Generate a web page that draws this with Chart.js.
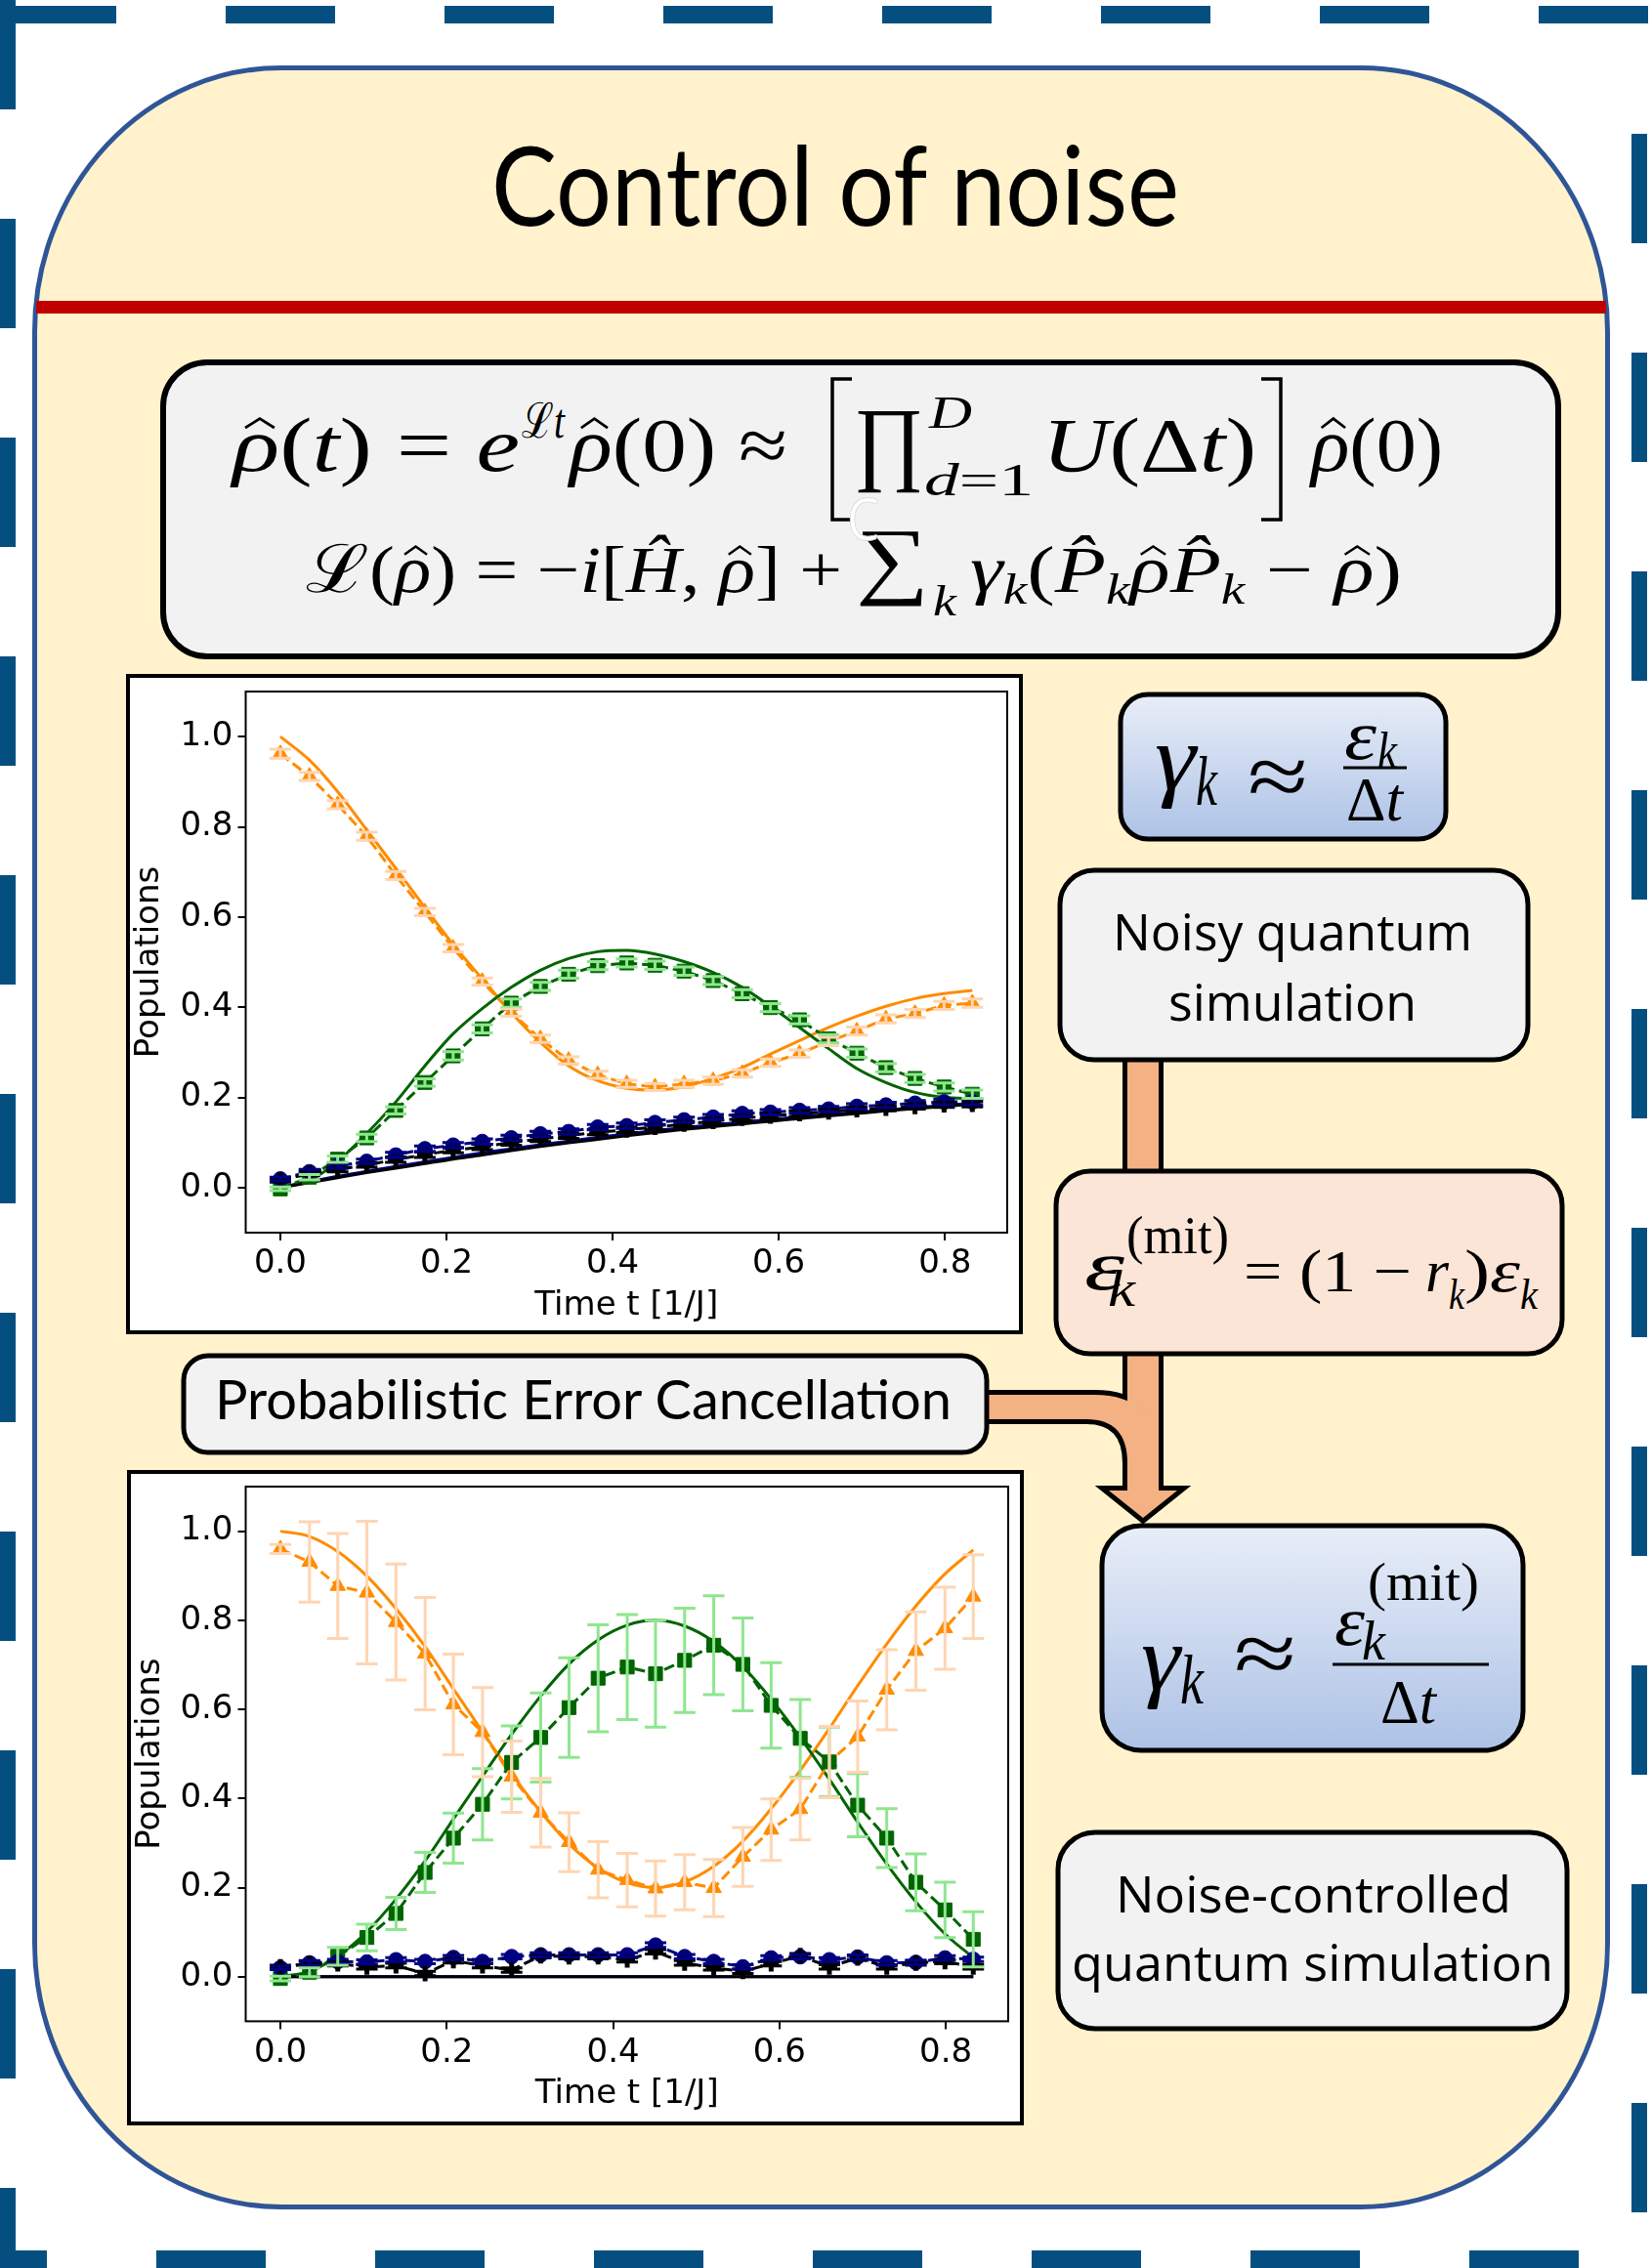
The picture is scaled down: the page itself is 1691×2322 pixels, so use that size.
<!DOCTYPE html>
<html>
<head>
<meta charset="utf-8">
<script src="https://cdn.jsdelivr.net/npm/chart.js@4.4.1/dist/chart.umd.min.js"></script>
<style>
  body { margin: 0; background: #fff; }
  #page { position: relative; width: 1691px; height: 2322px; overflow: hidden; }
  #deco { position: absolute; left: 0; top: 0; }
  canvas { position: absolute; }
  .m { font-family: 'Liberation Serif', 'DejaVu Serif', serif; }
  .i { font-style: italic; }
  .os { font-family: 'Open Sans', sans-serif; }
  .la { font-family: 'Lato', sans-serif; }
</style>
</head>
<body>
<div id="page">
<svg id="deco" width="1691" height="2322" viewBox="0 0 1691 2322">
  <defs>
    <linearGradient id="blueBox" x1="0" y1="0" x2="0" y2="1">
      <stop offset="0" stop-color="#e8eef8"/>
      <stop offset="1" stop-color="#adc2e6"/>
    </linearGradient>
  </defs>
  <!-- dashed outer frame -->
  <g stroke="#044f80" stroke-dasharray="112 112">
    <line x1="8" y1="0" x2="8" y2="2322" stroke-width="16"/>
    <line x1="7" y1="15" x2="1691" y2="15" stroke-width="18"/>
    <line x1="1678" y1="137" x2="1678" y2="2322" stroke-width="16"/>
    <line x1="-64" y1="2313" x2="1691" y2="2313" stroke-width="18"/>
  </g>
  <!-- panel -->
  <rect x="35.5" y="69.5" width="1610" height="2190" rx="252" ry="270" fill="#fff2cc" stroke="#2f5597" stroke-width="5"/>
  <rect x="37" y="308" width="1607" height="13" fill="#c00000"/>
  <text class="la" x="503" y="231" font-size="112" textLength="704" lengthAdjust="spacingAndGlyphs">Control of noise</text>

  <!-- master equation box -->
  <rect x="167" y="371" width="1428" height="301" rx="45" fill="#f2f2f2" stroke="#000" stroke-width="6"/>
  <g class="m hatted" fill="#000">
    <text x="238" y="482" font-size="78" textLength="294" lengthAdjust="spacingAndGlyphs"><tspan class="i">ρ</tspan>(<tspan class="i">t</tspan>) = <tspan class="i">e</tspan></text>
    <text x="534" y="448" font-size="50" textLength="44" lengthAdjust="spacingAndGlyphs">ℒ<tspan class="i">t</tspan></text>
    <text x="583" y="482" font-size="78" textLength="223" lengthAdjust="spacingAndGlyphs"><tspan class="i">ρ</tspan>(0) ≈</text>
    <text x="874" y="484" font-size="96" textLength="72" lengthAdjust="spacingAndGlyphs">∏</text>
    <text x="951" y="438" font-size="46" class="i" textLength="44" lengthAdjust="spacingAndGlyphs">D</text>
    <text x="946" y="507" font-size="46" textLength="112" lengthAdjust="spacingAndGlyphs"><tspan class="i">d</tspan>=1</text>
    <text x="1067" y="482" font-size="78" textLength="219" lengthAdjust="spacingAndGlyphs"><tspan class="i">U</tspan>(Δ<tspan class="i">t</tspan>)</text>
    <text x="1342" y="482" font-size="78" textLength="135" lengthAdjust="spacingAndGlyphs"><tspan class="i">ρ</tspan>(0)</text>
    <text x="313" y="606" font-size="68" textLength="549" lengthAdjust="spacingAndGlyphs">ℒ(<tspan class="i">ρ</tspan>) = −<tspan class="i">i</tspan>[<tspan class="i">Ĥ</tspan>, <tspan class="i">ρ</tspan>] +</text>
    <text x="876" y="602" font-size="88" textLength="75" lengthAdjust="spacingAndGlyphs">∑</text>
    <text x="955" y="630" font-size="44" class="i" textLength="24" lengthAdjust="spacingAndGlyphs">k</text>
    <text x="993" y="606" font-size="68" textLength="442" lengthAdjust="spacingAndGlyphs"><tspan class="i">γ</tspan><tspan class="i" font-size="44" dy="12">k</tspan><tspan dy="-12">(</tspan><tspan class="i">P̂</tspan><tspan class="i" font-size="44" dy="12">k</tspan><tspan class="i" dy="-12">ρP̂</tspan><tspan class="i" font-size="44" dy="12">k</tspan><tspan dy="-12"> − </tspan><tspan class="i">ρ</tspan>)</text>
  </g>
  <path d="M872,388 H852 V532 H872 M1291,388 H1311 V532 H1291" fill="none" stroke="#000" stroke-width="3.5"/>
  <text class="os" x="867" y="553" font-size="60" fill="#fff" stroke="#d8d8d8" stroke-width="0.8" textLength="33" lengthAdjust="spacingAndGlyphs">C</text>
  <g id="hats" fill="none" stroke="#000" stroke-linejoin="miter"></g>

  <!-- chart frames -->
  <rect x="131" y="692" width="914" height="672" fill="#fff" stroke="#000" stroke-width="4"/>
  <rect x="132" y="1507" width="914" height="667" fill="#fff" stroke="#000" stroke-width="4"/>

  <!-- arrows: outline pass then fill pass -->
  <g stroke="#000" stroke-width="10" stroke-linejoin="miter" fill="#000">
    <rect x="1154" y="1080" width="32" height="120"/>
    <polygon points="1154,1380 1186,1380 1186,1526 1205,1526 1170,1554 1135,1526 1154,1526"/>
    <path d="M995,1428 L1120,1428 Q1186,1428 1186,1494 L1186,1530 L1154,1530 L1154,1498 Q1154,1453 1112,1453 L995,1453 Z"/>
  </g>
  <g fill="#f4b183">
    <rect x="1154" y="1080" width="32" height="120"/>
    <polygon points="1154,1380 1186,1380 1186,1526 1205,1526 1170,1554 1135,1526 1154,1526"/>
    <path d="M995,1428 L1120,1428 Q1186,1428 1186,1494 L1186,1530 L1154,1530 L1154,1498 Q1154,1453 1112,1453 L995,1453 Z"/>
  </g>

  <!-- right column boxes -->
  <rect x="1147" y="711" width="333" height="148" rx="28" fill="url(#blueBox)" stroke="#000" stroke-width="5"/>
  <rect x="1085" y="891" width="479" height="194" rx="35" fill="#f2f2f2" stroke="#000" stroke-width="5"/>
  <rect x="1081" y="1199" width="518" height="187" rx="35" fill="#fbe5d6" stroke="#000" stroke-width="5"/>
  <rect x="1128" y="1562" width="431" height="230" rx="40" fill="url(#blueBox)" stroke="#000" stroke-width="5"/>
  <rect x="1083" y="1876" width="521" height="201" rx="38" fill="#f2f2f2" stroke="#000" stroke-width="5"/>
  <rect x="188" y="1388" width="822" height="99" rx="25" fill="#f2f2f2" stroke="#000" stroke-width="5"/>

  <text class="os" x="1139" y="973" font-size="51" textLength="368" lengthAdjust="spacingAndGlyphs">Noisy quantum</text>
  <text class="os" x="1196" y="1045" font-size="51" textLength="254" lengthAdjust="spacingAndGlyphs">simulation</text>
  <text class="os" x="1142" y="1958" font-size="52" textLength="405" lengthAdjust="spacingAndGlyphs">Noise-controlled</text>
  <text class="os" x="1097" y="2028" font-size="52" textLength="493" lengthAdjust="spacingAndGlyphs">quantum simulation</text>
  <text class="la" x="220" y="1453" font-size="56" textLength="754" lengthAdjust="spacingAndGlyphs">Probabilistic Error Cancellation</text>

  <g class="m" fill="#000">
    <!-- gamma_k ~ eps_k / dt -->
    <text x="1182" y="808" font-size="96" class="i" textLength="42" lengthAdjust="spacingAndGlyphs">γ</text>
    <text x="1224" y="824" font-size="72" class="i" textLength="22" lengthAdjust="spacingAndGlyphs">k</text>
    <text x="1277" y="825" font-size="90" textLength="62" lengthAdjust="spacingAndGlyphs">≈</text>
    <text x="1376" y="777" font-size="72" class="i" textLength="33" lengthAdjust="spacingAndGlyphs">ε</text>
    <text x="1410" y="786" font-size="52" class="i" textLength="20" lengthAdjust="spacingAndGlyphs">k</text>
    <text x="1378" y="840" font-size="64" textLength="58" lengthAdjust="spacingAndGlyphs">Δ<tspan class="i">t</tspan></text>
    <!-- eps_k^(mit) = (1 - r_k) eps_k -->
    <text x="1110" y="1320" font-size="72" class="i" textLength="41" lengthAdjust="spacingAndGlyphs">ε</text>
    <text x="1134" y="1337" font-size="52" class="i" textLength="28" lengthAdjust="spacingAndGlyphs">k</text>
    <text x="1153" y="1283" font-size="54" textLength="105" lengthAdjust="spacingAndGlyphs">(mit)</text>
    <text x="1273" y="1322" font-size="62" textLength="172" lengthAdjust="spacingAndGlyphs">= (1 −</text>
    <text x="1459" y="1322" font-size="62" class="i" textLength="24" lengthAdjust="spacingAndGlyphs">r</text>
    <text x="1483" y="1340" font-size="44" class="i" textLength="16" lengthAdjust="spacingAndGlyphs">k</text>
    <text x="1499" y="1322" font-size="62" textLength="57" lengthAdjust="spacingAndGlyphs">)<tspan class="i">ε</tspan></text>
    <text x="1556" y="1340" font-size="44" class="i" textLength="18" lengthAdjust="spacingAndGlyphs">k</text>
    <!-- gamma_k ~ eps_k^(mit) / dt -->
    <text x="1168" y="1730" font-size="96" class="i" textLength="40" lengthAdjust="spacingAndGlyphs">γ</text>
    <text x="1208" y="1744" font-size="72" class="i" textLength="24" lengthAdjust="spacingAndGlyphs">k</text>
    <text x="1263" y="1723" font-size="90" textLength="64" lengthAdjust="spacingAndGlyphs">≈</text>
    <text x="1366" y="1684" font-size="72" class="i" textLength="31" lengthAdjust="spacingAndGlyphs">ε</text>
    <text x="1394" y="1699" font-size="56" class="i" textLength="24" lengthAdjust="spacingAndGlyphs">k</text>
    <text x="1400" y="1638" font-size="54" textLength="114" lengthAdjust="spacingAndGlyphs">(mit)</text>
    <text x="1413" y="1764" font-size="64" textLength="57" lengthAdjust="spacingAndGlyphs">Δ<tspan class="i">t</tspan></text>
  </g>
  <line x1="1375" y1="786" x2="1440" y2="786" stroke="#000" stroke-width="3"/>
  <line x1="1364" y1="1704" x2="1524" y2="1704" stroke="#000" stroke-width="3"/>
</svg>
<canvas id="noisy" width="911" height="668" style="left:133px;top:694px"></canvas>
<canvas id="mitigated" width="911" height="663" style="left:134px;top:1509px"></canvas>
</div>
<script>
// time grid of the simulation, t in 1/J
const times = [0.000, 0.035, 0.069, 0.104, 0.139, 0.174, 0.208, 0.243, 0.278, 0.313, 0.347, 0.382, 0.417,
               0.451, 0.486, 0.521, 0.556, 0.590, 0.625, 0.660, 0.694, 0.729, 0.764, 0.799, 0.833];
const xTicks = [0.0, 0.2, 0.4, 0.6, 0.8];
const yTicks = [0.0, 0.2, 0.4, 0.6, 0.8, 1.0];

// top panel: noisy quantum simulation
const orangeExact1 = [1.000, 0.948, 0.878, 0.793, 0.708, 0.621, 0.539, 0.463, 0.388, 0.322, 0.270, 0.237, 0.220,
                      0.216, 0.224, 0.242, 0.266, 0.296, 0.326, 0.355, 0.380, 0.402, 0.419, 0.430, 0.437];
const greenExact1 = [0.000, 0.016, 0.058, 0.120, 0.190, 0.270, 0.341, 0.397, 0.444, 0.482, 0.508, 0.523, 0.526,
                     0.518, 0.501, 0.477, 0.444, 0.402, 0.355, 0.308, 0.264, 0.233, 0.211, 0.200, 0.197];
const navyExact1 = [0.000, 0.013, 0.025, 0.036, 0.047, 0.057, 0.067, 0.077, 0.086, 0.095, 0.103, 0.111, 0.119,
                    0.126, 0.133, 0.139, 0.145, 0.151, 0.157, 0.162, 0.167, 0.172, 0.177, 0.182, 0.187];
const blackExact1 = [0.000, 0.011, 0.022, 0.033, 0.043, 0.053, 0.063, 0.072, 0.082, 0.091, 0.099, 0.107, 0.115,
                     0.122, 0.129, 0.135, 0.141, 0.147, 0.153, 0.159, 0.164, 0.170, 0.175, 0.180, 0.185];
const orange1 = [0.962, 0.912, 0.849, 0.779, 0.692, 0.611, 0.531, 0.457, 0.388, 0.330, 0.282, 0.250, 0.230,
                 0.223, 0.230, 0.237, 0.253, 0.277, 0.297, 0.324, 0.347, 0.374, 0.386, 0.404, 0.409];
const green1 = [-0.003, 0.023, 0.063, 0.110, 0.171, 0.233, 0.292, 0.352, 0.409, 0.446, 0.473, 0.492, 0.498,
                0.493, 0.480, 0.459, 0.430, 0.399, 0.372, 0.330, 0.298, 0.266, 0.242, 0.223, 0.207];
const navy1 = [0.019, 0.035, 0.048, 0.058, 0.072, 0.086, 0.094, 0.102, 0.110, 0.119, 0.124, 0.134, 0.137,
               0.144, 0.150, 0.156, 0.164, 0.167, 0.171, 0.174, 0.180, 0.183, 0.187, 0.190, 0.190];
const black1 = [0.016, 0.031, 0.040, 0.050, 0.062, 0.073, 0.083, 0.090, 0.100, 0.108, 0.115, 0.123, 0.128,
                0.134, 0.141, 0.147, 0.154, 0.159, 0.164, 0.168, 0.173, 0.176, 0.180, 0.184, 0.185];
const orangeErr1 = [0.010, 0.009, 0.009, 0.009, 0.009, 0.008, 0.008, 0.008, 0.008, 0.008, 0.008, 0.008, 0.008,
                    0.008, 0.008, 0.008, 0.008, 0.008, 0.008, 0.009, 0.009, 0.009, 0.009, 0.009, 0.009];
const greenErr1 = [0.004, 0.006, 0.007, 0.008, 0.008, 0.008, 0.009, 0.009, 0.009, 0.009, 0.009, 0.009, 0.009,
                   0.009, 0.009, 0.009, 0.009, 0.009, 0.009, 0.009, 0.009, 0.009, 0.009, 0.009, 0.009];
const smallErr1 = [0.004, 0.005, 0.005, 0.005, 0.006, 0.006, 0.006, 0.006, 0.006, 0.006, 0.006, 0.006, 0.006,
                   0.006, 0.006, 0.006, 0.006, 0.006, 0.006, 0.006, 0.006, 0.006, 0.006, 0.006, 0.006];

// bottom panel: noise-controlled simulation (PEC)
const orangeExact2 = [1.000, 0.988, 0.954, 0.899, 0.826, 0.741, 0.646, 0.550, 0.456, 0.370, 0.298, 0.244, 0.211,
                      0.200, 0.213, 0.248, 0.304, 0.377, 0.463, 0.557, 0.653, 0.747, 0.832, 0.904, 0.958];
const greenExact2 = [0.000, 0.012, 0.046, 0.101, 0.174, 0.260, 0.354, 0.450, 0.544, 0.630, 0.702, 0.756, 0.789,
                     0.800, 0.787, 0.752, 0.696, 0.623, 0.537, 0.443, 0.347, 0.253, 0.168, 0.096, 0.043];
const navyExact2 = [0, 0, 0, 0, 0, 0, 0, 0, 0, 0, 0, 0, 0, 0, 0, 0, 0, 0, 0, 0, 0, 0, 0, 0, 0];
const blackExact2 = [0, 0, 0, 0, 0, 0, 0, 0, 0, 0, 0, 0, 0, 0, 0, 0, 0, 0, 0, 0, 0, 0, 0, 0, 0];
const orange2 = [0.960, 0.931, 0.877, 0.862, 0.796, 0.725, 0.611, 0.549, 0.449, 0.368, 0.302, 0.240, 0.217,
                 0.198, 0.212, 0.199, 0.269, 0.330, 0.376, 0.482, 0.539, 0.644, 0.731, 0.782, 0.853];
const green2 = [-0.004, 0.010, 0.046, 0.088, 0.142, 0.234, 0.311, 0.387, 0.481, 0.537, 0.604, 0.670, 0.695,
                0.680, 0.710, 0.744, 0.701, 0.609, 0.535, 0.482, 0.385, 0.311, 0.212, 0.150, 0.084];
const navy2 = [0.020, 0.031, 0.034, 0.033, 0.038, 0.034, 0.043, 0.034, 0.045, 0.049, 0.049, 0.049, 0.049,
               0.071, 0.045, 0.034, 0.022, 0.042, 0.045, 0.038, 0.044, 0.031, 0.032, 0.042, 0.039];
const black2 = [0.022, 0.029, 0.029, 0.022, 0.025, 0.007, 0.036, 0.025, 0.015, 0.047, 0.045, 0.045, 0.038,
                0.056, 0.031, 0.020, 0.012, 0.029, 0.047, 0.022, 0.042, 0.022, 0.031, 0.034, 0.022];
const orangeErr2 = [0.010, 0.090, 0.118, 0.160, 0.130, 0.126, 0.113, 0.100, 0.080, 0.077, 0.066, 0.063, 0.060,
                    0.062, 0.062, 0.064, 0.066, 0.069, 0.069, 0.080, 0.080, 0.090, 0.088, 0.092, 0.094];
const greenErr2 = [0.005, 0.010, 0.020, 0.030, 0.036, 0.045, 0.056, 0.080, 0.082, 0.100, 0.112, 0.120, 0.118,
                   0.120, 0.117, 0.111, 0.104, 0.096, 0.087, 0.078, 0.071, 0.066, 0.064, 0.062, 0.062];
const smallErr2 = [0.004, 0.005, 0.005, 0.005, 0.005, 0.005, 0.005, 0.005, 0.005, 0.005, 0.005, 0.005, 0.005,
                   0.005, 0.005, 0.005, 0.005, 0.005, 0.005, 0.005, 0.005, 0.005, 0.005, 0.005, 0.005];

const ORANGE = '#ff8c00', PEACH = '#ffd5b2', DKGREEN = '#006400', LTGREEN = '#8fe68f', NAVY = '#000080';

// hats over every rho in the equations (combining marks misplace on italic rho)
(function () {
  const hats = document.getElementById('hats');
  document.querySelectorAll('.hatted text').forEach(t => {
    const s = t.textContent;
    for (let i = 0; i < s.length; i++) {
      if (s[i] !== 'ρ') continue;
      const e = t.getExtentOfChar(i);
      if (!e || e.width <= 0) continue;
      const fs = e.height / 1.107;
      const base = e.y + 0.805 * e.height;
      const cx = e.x + e.width * 0.58, w = e.width * 0.62;
      const p = document.createElementNS('http://www.w3.org/2000/svg', 'path');
      p.setAttribute('d', `M${cx - w / 2},${base - 0.56 * fs} L${cx},${base - 0.68 * fs} L${cx + w / 2},${base - 0.56 * fs}`);
      p.setAttribute('stroke-width', (fs * 0.035).toFixed(2));
      hats.appendChild(p);
    }
  });
})();

function series(vals) {
  return times.map((t, i) => ({ x: t, y: vals[i] }));
}

function exactLine(vals, color) {
  return {
    data: series(vals), borderColor: color, borderWidth: 3, pointRadius: 0,
    cubicInterpolationMode: 'monotone', fill: false
  };
}

function measured(vals, err, color, errColor, style, radius) {
  return {
    data: series(vals), err: err, errColor: errColor,
    borderColor: color, backgroundColor: color, borderWidth: 3, borderDash: [11, 5],
    pointStyle: style, pointRadius: radius, pointBackgroundColor: color, pointBorderColor: color,
    pointBorderWidth: style === 'cross' ? 5 : 1, fill: false
  };
}

// error bars drawn through the chart scales, over the markers like matplotlib does
const errorBars = {
  id: 'errorBars',
  afterDatasetsDraw(chart) {
    const ctx = chart.ctx, xs = chart.scales.x, ys = chart.scales.y;
    ctx.save();
    ctx.lineWidth = 3;
    chart.data.datasets.forEach(ds => {
      if (!ds.err) return;
      ctx.strokeStyle = ds.errColor;
      ds.data.forEach((p, i) => {
        const px = xs.getPixelForValue(p.x);
        const hi = ys.getPixelForValue(p.y + ds.err[i]);
        const lo = ys.getPixelForValue(p.y - ds.err[i]);
        ctx.beginPath();
        ctx.moveTo(px, hi); ctx.lineTo(px, lo);
        ctx.moveTo(px - 11, hi); ctx.lineTo(px + 11, hi);
        ctx.moveTo(px - 11, lo); ctx.lineTo(px + 11, lo);
        ctx.stroke();
      });
    });
    ctx.restore();
  }
};

const axesBox = {
  id: 'axesBox',
  afterDraw(chart) {
    const a = chart.chartArea, ctx = chart.ctx;
    ctx.save();
    ctx.strokeStyle = '#000';
    ctx.lineWidth = 2;
    ctx.strokeRect(a.left, a.top, a.right - a.left, a.bottom - a.top);
    ctx.restore();
  }
};

const tickFont = { family: "'DejaVu Sans', sans-serif", size: 34 };

function makeChart(id, sets, box) {
  return new Chart(document.getElementById(id), {
    type: 'line',
    data: { datasets: sets },
    options: {
      responsive: false,
      animation: false,
      events: [],
      layout: { padding: { top: box.top, right: box.right, left: 0, bottom: 0 } },
      plugins: { legend: { display: false }, tooltip: { enabled: false } },
      scales: {
        x: {
          type: 'linear', min: -0.0417, max: 0.875,
          afterBuildTicks: s => { s.ticks = xTicks.map(v => ({ value: v })); },
          afterFit: s => { s.height = box.xh; s.paddingLeft = 0; s.paddingRight = 0; },
          ticks: { font: tickFont, color: '#000', padding: 4, maxRotation: 0, callback: v => v.toFixed(1) },
          grid: { drawOnChartArea: false, drawTicks: true, tickLength: 8, color: '#000', lineWidth: 2 },
          border: { display: false },
          title: { display: true, text: 'Time t [1/J]', font: tickFont, color: '#000', padding: { top: 0, bottom: box.xtp } }
        },
        y: {
          min: -0.1, max: 1.1,
          afterBuildTicks: s => { s.ticks = yTicks.map(v => ({ value: v })); },
          afterFit: s => { s.width = box.yw; s.paddingTop = 0; s.paddingBottom = 0; },
          ticks: { font: tickFont, color: '#000', padding: 5, callback: v => v.toFixed(1) },
          grid: { drawOnChartArea: false, drawTicks: true, tickLength: 8, color: '#000', lineWidth: 2 },
          border: { display: false },
          title: { display: true, text: 'Populations', font: tickFont, color: '#000', padding: { top: 0, bottom: 0 } }
        }
      }
    },
    plugins: [errorBars, axesBox]
  });
}

makeChart('noisy', [
  measured(black1, smallErr1, '#000', '#000', 'cross', 8),
  measured(navy1, smallErr1, NAVY, NAVY, 'circle', 7.5),
  measured(green1, greenErr1, DKGREEN, LTGREEN, 'rect', 10),
  measured(orange1, orangeErr1, ORANGE, PEACH, 'triangle', 9),
  exactLine(blackExact1, '#000'),
  exactLine(navyExact1, NAVY),
  exactLine(greenExact1, DKGREEN),
  exactLine(orangeExact1, ORANGE)
], { top: 14, right: 8.6, yw: 118.5, xh: 100, xtp: 4.6 });

makeChart('mitigated', [
  measured(black2, smallErr2, '#000', '#000', 'cross', 8),
  measured(navy2, smallErr2, NAVY, NAVY, 'circle', 7.5),
  measured(green2, greenErr2, DKGREEN, LTGREEN, 'rect', 10),
  measured(orange2, orangeErr2, ORANGE, PEACH, 'triangle', 9),
  exactLine(blackExact2, '#000'),
  exactLine(navyExact2, NAVY),
  exactLine(greenExact2, DKGREEN),
  exactLine(orangeExact2, ORANGE)
], { top: 11.8, right: 9.6, yw: 117.5, xh: 102.6, xtp: 7.6 });
</script>
</body>
</html>
